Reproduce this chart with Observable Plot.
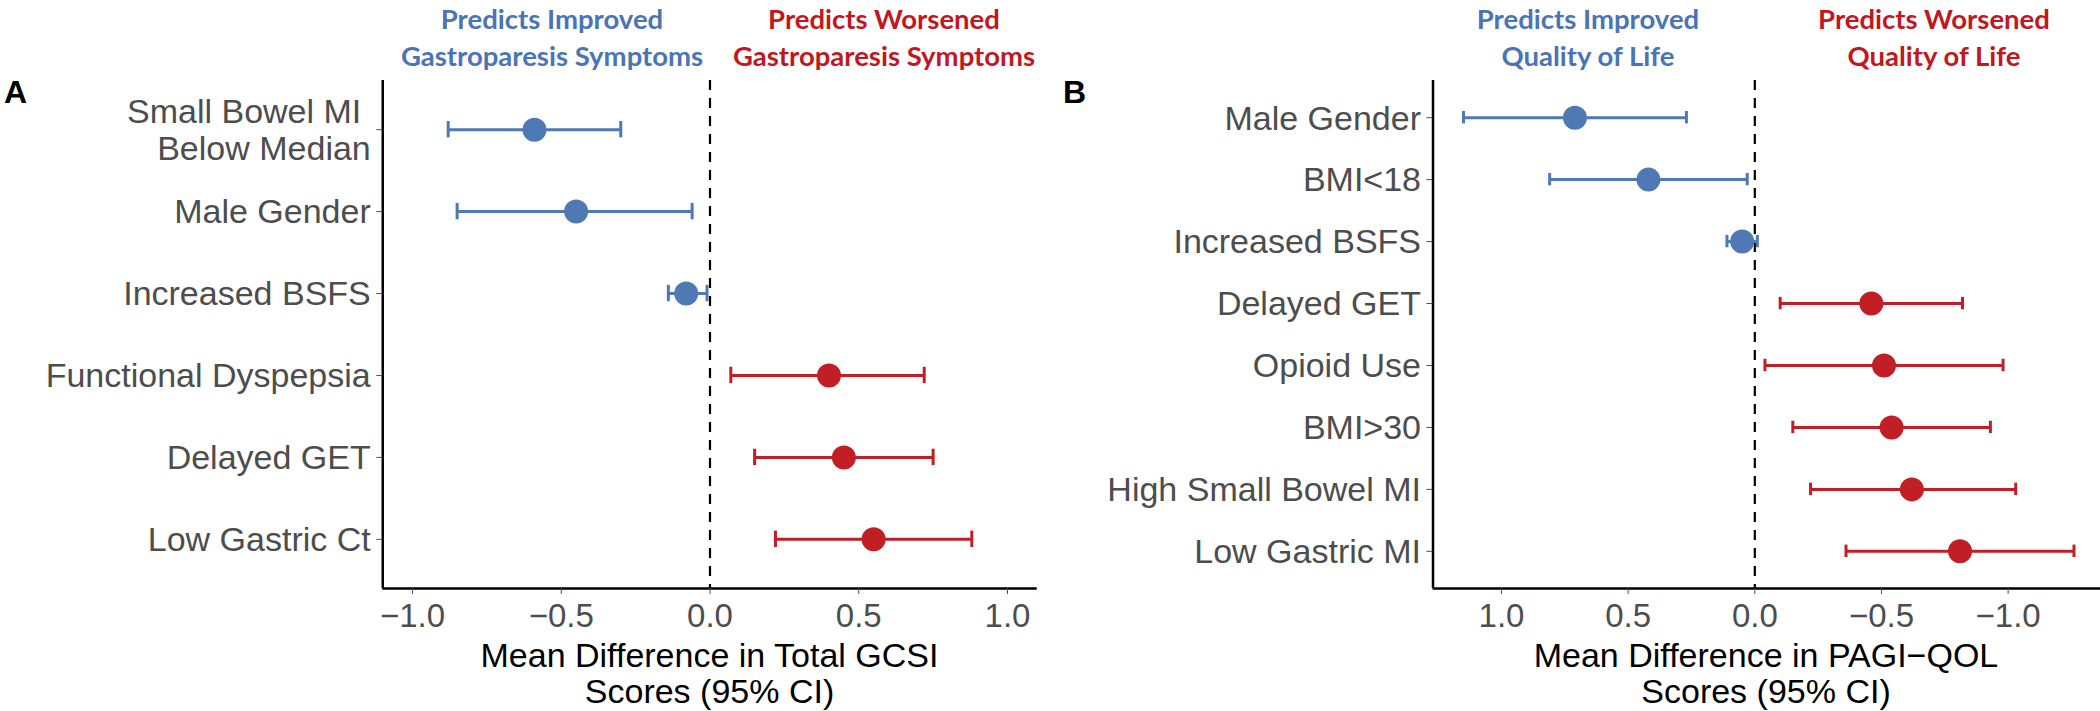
<!DOCTYPE html>
<html>
<head>
<meta charset="utf-8">
<script src="https://cdn.jsdelivr.net/npm/d3@7"></script>
<script src="https://cdn.jsdelivr.net/npm/@observablehq/plot@0.6"></script>
<style>
  html, body { margin: 0; padding: 0; background: #fff; overflow: hidden; }
  #wrap { position: relative; width: 2100px; height: 711px; overflow: hidden; background: #fff; }
  .panel { position: absolute; top: 0; }
  .hdr { position: absolute; width: 600px; text-align: center; font-family: Lato, sans-serif; font-weight: bold; font-size: 27.5px; line-height: 37px; white-space: pre; }
  .ttl { position: absolute; width: 800px; text-align: center; font-family: "Liberation Sans", Arial, sans-serif; font-size: 34px; line-height: 36px; color: #000; white-space: pre; }
  .tag { position: absolute; font-family: "Liberation Sans", Arial, sans-serif; font-weight: bold; font-size: 32px; line-height: 32px; color: #000; }
</style>
</head>
<body>
<div id="wrap"></div>
<script>
// ---------- Data: Panel A (GCSI) ----------
const catsA  = ["Small Bowel MI\u00a0\nBelow Median", "Male Gender", "Increased BSFS", "Functional Dyspepsia", "Delayed GET", "Low Gastric Ct"];
const estA   = [-0.59, -0.45, -0.08, 0.40, 0.45, 0.55];
const lowA   = [-0.88, -0.85, -0.14, 0.07, 0.15, 0.22];
const highA  = [-0.30, -0.06, -0.01, 0.72, 0.75, 0.88];
const groupA = ["Improved", "Improved", "Improved", "Worsened", "Worsened", "Worsened"];
const ticksA = [-1, -0.5, 0, 0.5, 1];
const limitsA = [-1, 1];

// ---------- Data: Panel B (PAGI-QOL) ----------
const catsB  = ["Male Gender", "BMI<18", "Increased BSFS", "Delayed GET", "Opioid Use", "BMI>30", "High Small Bowel MI", "Low Gastric MI"];
const estB   = [0.71, 0.42, 0.05, -0.46, -0.51, -0.54, -0.62, -0.81];
const lowB   = [0.27, 0.03, -0.01, -0.82, -0.98, -0.93, -1.03, -1.26];
const highB  = [1.15, 0.81, 0.11, -0.10, -0.04, -0.15, -0.22, -0.36];
const groupB = ["Improved", "Improved", "Improved", "Worsened", "Worsened", "Worsened", "Worsened", "Worsened"];
const ticksB = [1, 0.5, 0, -0.5, -1];

const headersA = ["Predicts Improved\nGastroparesis Symptoms", "Predicts Worsened\nGastroparesis Symptoms"];
const headersB = ["Predicts Improved\nQuality of Life", "Predicts Worsened\nQuality of Life"];
const titleA = "Mean Difference in Total GCSI\nScores (95% CI)";
const titleB = "Mean Difference in PAGI\u2212QOL\nScores (95% CI)";

const BLUE = "#4E79B5", RED = "#C21E25";
const HBLUE = "#4A74B6", HRED = "#C3161E";

function rows(cats, est, low, high, grp) {
  return cats.map((c, k) => ({cat: c, i: k + 1, est: est[k], low: low[k], high: high[k], group: grp[k]}));
}

function expand(lo, hi, f = 0.05) { const d = (hi - lo) * f; return [lo - d, hi + d]; }

function panel({data, cats, xDomain, xTicks, width, marginLeft, marginRight}) {
  const n = cats.length;
  const yBottom = n + 0.6, yTop = 0.4;
  return Plot.plot({
    width, height: 711,
    marginLeft, marginRight, marginTop: 80, marginBottom: 123,
    style: {fontFamily: "'Liberation Sans', Arial, sans-serif", fontSize: "34px", color: "#4d4d4d", background: "transparent", overflow: "visible"},
    x: {domain: xDomain},
    y: {domain: [yBottom, yTop]},
    color: {domain: ["Improved", "Worsened"], range: [BLUE, RED]},
    marks: [
      Plot.ruleX([0], {stroke: "#000", strokeWidth: 2.2, strokeDasharray: "10,8"}),
      Plot.ruleY(data, {y: "i", x1: "low", x2: "high", stroke: "group", strokeWidth: 3}),
      Plot.ruleX(data, {x: "low", y1: d => d.i - 0.1, y2: d => d.i + 0.1, stroke: "group", strokeWidth: 3}),
      Plot.ruleX(data, {x: "high", y1: d => d.i - 0.1, y2: d => d.i + 0.1, stroke: "group", strokeWidth: 3}),
      Plot.dot(data, {x: "est", y: "i", r: 12, fill: "group", stroke: null}),
      Plot.ruleX([xDomain[0]], {stroke: "#000", strokeWidth: 2.5}),
      Plot.ruleY([yBottom], {stroke: "#000", strokeWidth: 2.5}),
      Plot.axisY({ticks: d3.range(1, n + 1), tickFormat: i => cats[i - 1], tickSize: 6, tickPadding: 6, fontSize: 34, lineHeight: 1.09, label: null}),
      Plot.axisX({ticks: xTicks, tickFormat: d3.format(".1f"), tickSize: 6, tickPadding: 9, fontSize: 33, label: null})
    ]
  });
}

const wrap = document.getElementById("wrap");

// Panel A
const dataA = rows(catsA, estA, lowA, highA, groupA);
const plotA = panel({data: dataA, cats: catsA, xDomain: expand(limitsA[0], limitsA[1]), xTicks: ticksA, width: 1050, marginLeft: 382.25, marginRight: 13.25});
plotA.classList.add("panel"); plotA.style.left = "0px";
wrap.appendChild(plotA);

// Panel B (reversed x)
const dataB = rows(catsB, estB, lowB, highB, groupB);
const extB = expand(d3.min(highB.concat(lowB)), d3.max(highB.concat(lowB)));
const plotB = panel({data: dataB, cats: catsB, xDomain: [extB[1], extB[0]], xTicks: ticksB, width: 1054, marginLeft: 382.5, marginRight: 0});
plotB.classList.add("panel"); plotB.style.left = "1050px";
wrap.appendChild(plotB);

function addDiv(cls, text, left, top, color) {
  const d = document.createElement("div");
  d.className = cls; d.textContent = text;
  d.style.left = left + "px"; d.style.top = top + "px";
  if (color) d.style.color = color;
  wrap.appendChild(d);
}
// headers (centered boxes)
addDiv("hdr", headersA[0], 552 - 300, 0, HBLUE);
addDiv("hdr", headersA[1], 884 - 300, 0, HRED);
addDiv("hdr", headersB[0], 1588 - 300, 0, HBLUE);
addDiv("hdr", headersB[1], 1934 - 300, 0, HRED);
// axis titles
addDiv("ttl", titleA, 709.5 - 400, 637);
addDiv("ttl", titleB, 1766 - 400, 637);
// panel tags
addDiv("tag", "A", 4, 76);
addDiv("tag", "B", 1063, 76);
</script>
</body>
</html>
